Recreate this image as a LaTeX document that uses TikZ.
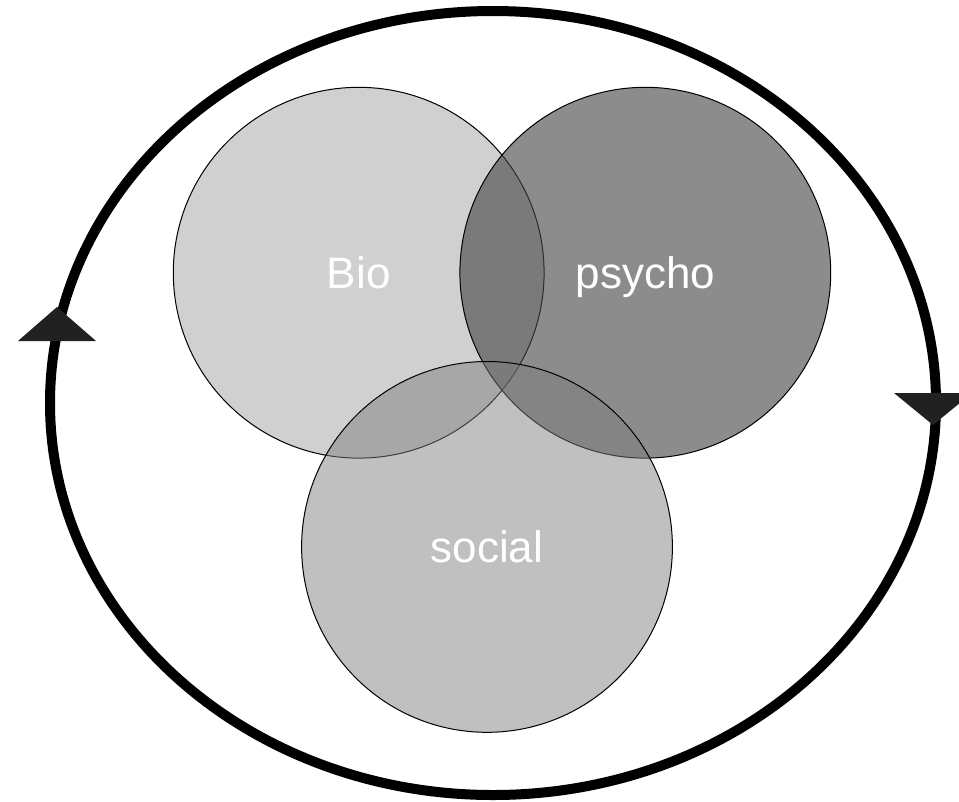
\documentclass[tikz,border=0pt]{standalone}
\usepackage{fontspec}
\setmainfont{Liberation Sans}
\definecolor{biofill}{gray}{0.816}
\definecolor{psychofill}{gray}{0.275}
\definecolor{socialfill}{gray}{0.494}
\definecolor{markfill}{gray}{0.13}
\begin{document}
\begin{tikzpicture}[x=0.75pt,y=-0.75pt,
  venn/.style={circle, draw=black, line width=0.75pt, minimum size=278.1pt,
    inner sep=0pt, text=white, text opacity=1, text depth=0pt,
    font=\fontsize{33}{40}\selectfont},
  cycleline/.style={line width=7.5pt},
  turnmark/.style={fill=markfill, draw=none}]
\useasboundingbox (0,0) rectangle (959,801);

% the surrounding cycle
\draw[cycleline] (493,403) ellipse [x radius=443, y radius=392];

% three overlapping domains
\node[venn, fill=biofill] (bio) at (358.7,272.7) {Bio};
\node[venn, fill=psychofill, fill opacity=0.62] (psycho) at (645.3,272.7) {psycho};
\node[venn, fill=socialfill, fill opacity=0.49] (social) at (487,546.9) {social};

% direction marks on the cycle
\coordinate (upmark) at (57,307);
\coordinate (downmark) at (933,425);
\fill[turnmark] (upmark) -- ++(-39,34) -- ++(78,0) -- cycle;
\fill[turnmark] (downmark) -- ++(-39,-32) -- ++(78,0) -- cycle;
\end{tikzpicture}
\end{document}
